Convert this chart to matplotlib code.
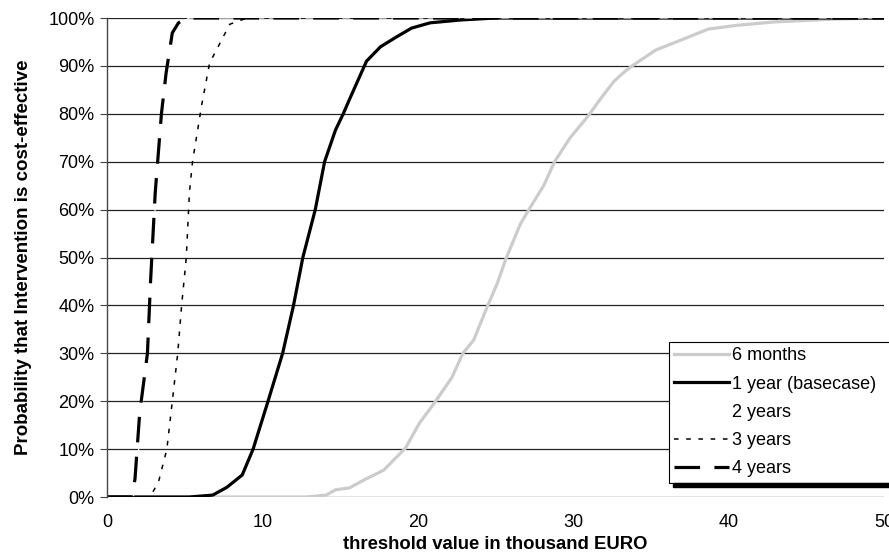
import matplotlib
matplotlib.use("Agg")
import matplotlib.pyplot as plt
from matplotlib.patches import Rectangle
from matplotlib.ticker import PercentFormatter

plt.rcParams['font.family'] = ['Liberation Sans', 'DejaVu Sans']

# threshold (thousand EURO) / probability (%)
x_6m = [0, 12.8, 14.1, 14.7, 15.6, 16.5, 17.8, 19.2, 20.1, 21.1, 22.2, 22.9, 23.6, 24.5,
        25.1, 25.7, 26.6, 27.2, 28.1, 28.8, 29.8, 31.0, 31.7, 32.6, 33.2, 33.7, 35.3,
        37.4, 38.7, 40.6, 43.0, 47.0, 50]
y_6m = [0, 0, 0.4, 1.5, 1.9, 3.5, 5.6, 10.2, 15.4, 19.8, 25, 30, 32.8, 40,
        44.5, 50, 57, 60.3, 65, 70, 75, 79.7, 82.9, 86.7, 88.5, 89.8, 93.3,
        96, 97.7, 98.5, 99.2, 99.8, 100]

x_1y = [0, 5.3, 6.8, 7.7, 8.7, 9.4, 10.36, 11.3, 12.0, 12.6, 13.4, 14.0, 14.7, 15.2,
        15.6, 16.7, 17.0, 17.6, 18.6, 19.6, 20.8, 22.8, 25.0, 50]
y_1y = [0, 0, 0.4, 2, 4.6, 10, 20, 30, 40, 50, 60, 70, 76.6, 80,
        83, 91, 92, 94, 96, 97.9, 99, 99.6, 100, 100]

# white series, only seen where it runs along the 100% line
x_2y = [1.7, 1.9, 2.2, 2.65, 2.85, 3.15, 3.55, 3.85, 4.25, 4.7, 5.3, 50]
y_2y = [0, 3.8, 17.5, 30, 45, 63.5, 80, 88.5, 96.9, 99, 100, 100]

x_3y = [0, 2.75, 3.3, 3.85, 4.2, 4.55, 4.8, 5.1, 5.3, 5.5, 6.1, 6.6, 7.9, 9.0, 50]
y_3y = [0, 0, 3, 10, 20, 30, 40, 50, 63.5, 70, 82, 90.6, 98.7, 100, 100]

x_4y = [0, 1.6, 1.8, 2.1, 2.6, 2.8, 3.1, 3.5, 3.8, 4.2, 4.6, 5.2, 50]
y_4y = [0, 0, 3.8, 17.5, 30, 45, 63.5, 80, 88.5, 96.9, 99, 100, 100]

labels = ['6 months', '1 year (basecase)', '2 years', '3 years', '4 years']

fig = plt.figure(figsize=(8.89, 5.56), dpi=100)
ax = fig.add_axes([0.1204, 0.1061, 0.8740, 0.8615])

ax.set_axisbelow(True)
ax.yaxis.grid(True, color='#222222', linewidth=0.9)

ax.plot(x_6m, y_6m, color='#cccccc', linewidth=2.3, label=labels[0])
ax.plot(x_1y, y_1y, color='black', linewidth=2.3, label=labels[1])
ax.plot(x_2y, y_2y, color='white', linewidth=0.8, label=labels[2])
ax.plot(x_3y, y_3y, color='black', linewidth=1.1, dashes=(3, 5), label=labels[3])
ax.plot(x_4y, y_4y, color='black', linewidth=2.3, dashes=(8, 4.5), label=labels[4])

ax.set_xlim(0, 50)
ax.set_ylim(0, 100)
ax.set_xticks(range(0, 51, 10))
ax.set_yticks(range(0, 101, 10))
ax.yaxis.set_major_formatter(PercentFormatter(decimals=0))
ax.tick_params(axis='x', length=0, pad=12, labelsize=13)
ax.tick_params(axis='y', length=5, width=0.8, color='#444444', pad=4, labelsize=13)

for s in ['top', 'right', 'bottom']:
    ax.spines[s].set_visible(False)
ax.spines['left'].set_color('#444444')
ax.spines['left'].set_linewidth(1.0)

ax.set_xlabel('threshold value in thousand EURO', fontsize=13.3, fontweight='bold', labelpad=4)
ax.set_ylabel('Probability that Intervention is cost-effective', fontsize=13.5,
              fontweight='bold', labelpad=12)

# legend runs past the right edge of the figure, as in the source chart
leg = ax.legend(loc='upper left', bbox_to_anchor=(669 / 889, 1 - 342 / 556, 0.3, 0),
                bbox_transform=fig.transFigure, mode='expand', fancybox=False,
                framealpha=1, edgecolor='black', fontsize=13, handlelength=3.0,
                handletextpad=0.2, borderpad=0.3, labelspacing=0.62, borderaxespad=0)
leg.get_frame().set_linewidth(0.8)

# legend shadow along the bottom
fig.patches.append(Rectangle((673 / 889, 1 - 487 / 556), 0.3, 4 / 556,
                             transform=fig.transFigure, color='black', zorder=1))

fig.savefig('out.png', dpi=100)
